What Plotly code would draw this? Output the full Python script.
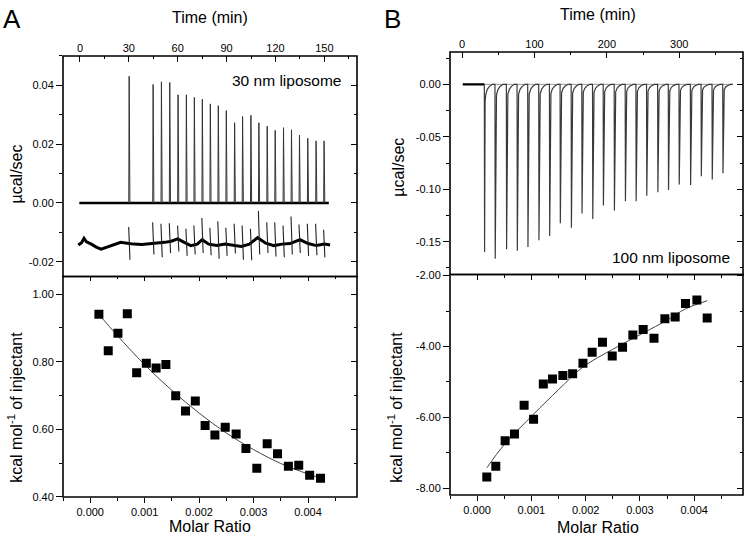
import plotly.graph_objects as go

# ---------------- Panel A (30 nm liposome) ----------------
a_inj_time = [30.2, 44.9, 50.0, 55.1, 60.2, 65.3, 70.2, 75.1, 80.0, 84.9, 89.8, 94.9,
              99.8, 104.9, 109.8, 114.9, 119.8, 124.9, 129.8, 134.7, 139.8, 144.9, 149.8]
a_peak = [0.0431, 0.0403, 0.0412, 0.0410, 0.0368, 0.0368, 0.0359, 0.0353, 0.0337, 0.0331,
          0.0314, 0.0273, 0.0294, 0.0298, 0.0273, 0.0261, 0.0247, 0.0256, 0.0249, 0.0231,
          0.0220, 0.0211, 0.0211]
a_base_time = [-0.4, 152.7]
a_base_val = [0.0, 0.0]

a_ref_time = [-1, 1, 2.5, 4, 7, 10, 13, 17, 21, 25, 28, 33, 38, 42, 47, 52, 56, 60, 64, 68,
              72, 75, 79, 84, 89, 94, 99, 104, 109, 114, 119, 124, 129, 135, 140, 145, 150, 153.5]
a_ref_val = [-0.0143, -0.0135, -0.0120, -0.0132, -0.0140, -0.0150, -0.0157, -0.0150, -0.0142,
             -0.0134, -0.0136, -0.0140, -0.0141, -0.0139, -0.0137, -0.0134, -0.0130, -0.0122,
             -0.0134, -0.0145, -0.0140, -0.0125, -0.0140, -0.0145, -0.0140, -0.0143, -0.0148,
             -0.0140, -0.0118, -0.0137, -0.0145, -0.0140, -0.0138, -0.0125, -0.0138, -0.0145,
             -0.0140, -0.0143]
a_ref_top = [-0.0082, -0.0066, -0.0071, -0.0069, -0.0077, -0.0088, -0.0077, -0.0051, -0.0084,
             -0.0062, -0.0084, -0.0071, -0.0077, -0.0088, -0.0027, -0.0066, -0.0066, -0.0077,
             -0.0046, -0.0073, -0.0071, -0.0071, -0.0091]
a_ref_dip = [-0.0193, -0.0175, -0.0185, -0.0170, -0.0165, -0.0180, -0.0175, -0.0170, -0.0178,
             -0.0190, -0.0180, -0.0172, -0.0193, -0.0195, -0.0175, -0.0170, -0.0182, -0.0185,
             -0.0175, -0.0170, -0.0180, -0.0178, -0.0185]

a_ratio = [0.000159, 0.000331, 0.000509, 0.000681, 0.000853, 0.00103, 0.00121, 0.00139,
           0.00157, 0.00175, 0.00193, 0.00211, 0.00229, 0.00248, 0.00268, 0.00286, 0.00306,
           0.00325, 0.00344, 0.00364, 0.00383, 0.00403, 0.00423]
a_heat = [0.940, 0.832, 0.884, 0.942, 0.767, 0.795, 0.781, 0.792, 0.699, 0.654, 0.684, 0.611,
          0.583, 0.606, 0.586, 0.543, 0.485, 0.557, 0.528, 0.491, 0.494, 0.464, 0.455]
a_fit_ratio = [0.00016, 0.0005, 0.001, 0.0015, 0.002, 0.0025, 0.003, 0.0035, 0.004, 0.00425]
a_fit_heat = [0.940, 0.877, 0.791, 0.715, 0.648, 0.589, 0.540, 0.499, 0.468, 0.455]

# ---------------- Panel B (100 nm liposome) ----------------
b_inj_time = [30.9, 45.6, 61.3, 76.1, 90.8, 106.0, 120.8, 135.5, 150.8, 165.5, 180.3, 195.0,
              210.2, 225.4, 240.2, 254.9, 270.2, 284.9, 299.7, 315.4, 330.2, 345.3, 360.1]
b_peak = [-0.1598, -0.1664, -0.1573, -0.1586, -0.1551, -0.1486, -0.1446, -0.1324, -0.1368,
          -0.1231, -0.1283, -0.1156, -0.1203, -0.1115, -0.1115, -0.1063, -0.1028, -0.1007,
          -0.0956, -0.0960, -0.0876, -0.0907, -0.0848]
b_base_time = [1.0, 374.0]
b_base_val = [0.0, 0.0]

b_ratio = [0.000178, 0.000344, 0.000516, 0.000688, 0.000866, 0.00104, 0.00122, 0.00139,
           0.00158, 0.00176, 0.00195, 0.00212, 0.00231, 0.00249, 0.00268, 0.00287, 0.00306,
           0.00326, 0.00346, 0.00365, 0.00384, 0.00405, 0.00424]
b_heat = [-7.68, -7.38, -6.66, -6.47, -5.66, -6.05, -5.06, -4.92, -4.82, -4.77, -4.47, -4.16,
          -3.88, -4.27, -4.02, -3.68, -3.52, -3.77, -3.22, -3.17, -2.79, -2.69, -3.20]
b_fit_ratio = [0.00018, 0.0005, 0.00104, 0.0015, 0.00195, 0.0025, 0.00306, 0.0035, 0.00384, 0.00424]
b_fit_heat = [-7.42, -6.77, -5.91, -5.22, -4.58, -4.08, -3.62, -3.26, -2.94, -2.71]

# ---------------- tick labels ----------------
time_a_ticks = [0, 30, 60, 90, 120, 150]
time_b_ticks = [0, 100, 200, 300]
ratio_ticks = [0.000, 0.001, 0.002, 0.003, 0.004]
ratio_labels = ["0.000", "0.001", "0.002", "0.003", "0.004"]
a_raw_ticks = [-0.02, 0.00, 0.02, 0.04]
a_raw_labels = ["-0.02", "0.00", "0.02", "0.04"]
a_heat_ticks = [0.40, 0.60, 0.80, 1.00]
a_heat_labels = ["0.40", "0.60", "0.80", "1.00"]
b_raw_ticks = [-0.15, -0.10, -0.05, 0.00]
b_raw_labels = ["-0.15", "-0.10", "-0.05", "0.00"]
b_heat_ticks = [-8.0, -6.0, -4.0, -2.0]
b_heat_labels = ["-8.00", "-6.00", "-4.00", "-2.00"]

FONT = "Arial, Liberation Sans, sans-serif"
W, H = 745, 550

fig = go.Figure()

# ---- A thermogram: sample trace ----
fig.add_trace(go.Scatter(x=a_base_time, y=a_base_val, mode="lines",
                         line=dict(color="black", width=2.4), xaxis="x", yaxis="y", hoverinfo="skip"))
sx, sy = [], []
for t, p in zip(a_inj_time, a_peak):
    sx += [t - 0.25, t, t + 0.45, None]
    sy += [a_base_val[0], p, a_base_val[0], None]
fig.add_trace(go.Scatter(x=sx, y=sy, mode="lines", line=dict(color="#333", width=1),
                         xaxis="x", yaxis="y", hoverinfo="skip"))
# ---- A thermogram: reference trace ----
fig.add_trace(go.Scatter(x=a_ref_time, y=a_ref_val, mode="lines",
                         line=dict(color="black", width=3), xaxis="x", yaxis="y", hoverinfo="skip"))
rx, ry = [], []
for t, tp, dp in zip(a_inj_time, a_ref_top, a_ref_dip):
    rx += [t - 0.3, t + 0.5, None]
    ry += [tp, dp, None]
fig.add_trace(go.Scatter(x=rx, y=ry, mode="lines", line=dict(color="#222", width=1.1),
                         xaxis="x", yaxis="y", hoverinfo="skip"))

# ---- A binding isotherm ----
fig.add_trace(go.Scatter(x=a_fit_ratio, y=a_fit_heat, mode="lines",
                         line=dict(color="#444", width=1, shape="spline"), xaxis="x2", yaxis="y2"))
fig.add_trace(go.Scatter(x=a_ratio, y=a_heat, mode="markers",
                         marker=dict(symbol="square", size=9, color="black"), xaxis="x2", yaxis="y2"))

# ---- B thermogram ----
fig.add_trace(go.Scatter(x=[b_base_time[0], b_base_time[1]], y=b_base_val, mode="lines",
                         line=dict(color="#999", width=1), xaxis="x3", yaxis="y3", hoverinfo="skip"))
fig.add_trace(go.Scatter(x=[b_base_time[0], b_inj_time[0]], y=b_base_val, mode="lines",
                         line=dict(color="black", width=2.4), xaxis="x3", yaxis="y3", hoverinfo="skip"))
recov_dt = [1.0, 2.0, 4.0, 7.0, 11.0]
recov_frac = [0.10, 0.06, 0.03, 0.012, 0.0]
bx, by = [], []
for t, p in zip(b_inj_time, b_peak):
    bx += [t - 0.1, t + 0.25]
    by += [b_base_val[0], p]
    for dt, fr in zip(recov_dt, recov_frac):
        bx.append(t + dt)
        by.append(p * fr)
bx.append(b_base_time[1])
by.append(b_base_val[1])
fig.add_trace(go.Scatter(x=bx, y=by, mode="lines", line=dict(color="#3a3a3a", width=1.2),
                         xaxis="x3", yaxis="y3", hoverinfo="skip"))

# ---- B binding isotherm ----
fig.add_trace(go.Scatter(x=b_fit_ratio, y=b_fit_heat, mode="lines",
                         line=dict(color="#444", width=1, shape="spline"), xaxis="x4", yaxis="y4"))
fig.add_trace(go.Scatter(x=b_ratio, y=b_heat, mode="markers",
                         marker=dict(symbol="square", size=9, color="black"), xaxis="x4", yaxis="y4"))

# ---------------- axes ----------------
def px_x(a, b):
    return [a / W, b / W]

def px_y(top, bottom):
    return [1 - bottom / H, 1 - top / H]

A_X = px_x(63, 357)
B_X = px_x(450, 743)
A_TOP = px_y(52, 277)
A_BOT = px_y(277, 502)
B_TOP = px_y(48, 275)
B_BOT = px_y(275, 500)

tickfont = dict(family=FONT, size=11, color="black")
base = dict(showline=False, showgrid=False, zeroline=False, tickcolor="black", tickwidth=1.3,
            tickfont=tickfont, fixedrange=True)

def minor(d, t0, direction):
    return dict(tickmode="linear", tick0=t0, dtick=d, ticks=direction, ticklen=3,
                tickcolor="black", tickwidth=1.3, showgrid=False)

layout = dict(
    width=W, height=H, margin=dict(l=0, r=0, t=0, b=0),
    paper_bgcolor="white", plot_bgcolor="rgba(0,0,0,0)", showlegend=False,
    font=dict(family=FONT, color="black"),
)

layout["xaxis"] = dict(base, domain=A_X, anchor="y", side="top", range=[-10.4, 170],
                       tickmode="array", tickvals=time_a_ticks, ticks="inside", ticklen=6,
                       ticklabelstandoff=1, minor=minor(15, 0, "inside"))
layout["yaxis"] = dict(base, domain=A_TOP, anchor="x", range=[-0.025, 0.05],
                       tickmode="array", tickvals=a_raw_ticks, ticktext=a_raw_labels,
                       ticks="outside", ticklen=6, minor=minor(0.01, 0, "outside"))
layout["xaxis2"] = dict(base, domain=A_X, anchor="y2", range=[-0.0005, 0.0049],
                        tickmode="array", tickvals=ratio_ticks, ticktext=ratio_labels,
                        ticks="outside", ticklen=5, minor=minor(0.0005, 0, "outside"))
layout["yaxis2"] = dict(base, domain=A_BOT, anchor="x2", range=[0.40, 1.052],
                        tickmode="array", tickvals=a_heat_ticks, ticktext=a_heat_labels,
                        ticks="outside", ticklen=6, minor=minor(0.1, 0.4, "outside"))
layout["xaxis3"] = dict(base, domain=B_X, anchor="y3", side="top", range=[-16.6, 388],
                        tickmode="array", tickvals=time_b_ticks, ticks="inside", ticklen=6,
                        ticklabelstandoff=1, minor=minor(50, 0, "inside"))
layout["yaxis3"] = dict(base, domain=B_TOP, anchor="x3", range=[-0.1813, 0.0308],
                        tickmode="array", tickvals=b_raw_ticks, ticktext=b_raw_labels,
                        ticks="outside", ticklen=6, minor=minor(0.025, 0, "outside"))
layout["xaxis4"] = dict(base, domain=B_X, anchor="y4", range=[-0.0005, 0.0049],
                        tickmode="array", tickvals=ratio_ticks, ticktext=ratio_labels,
                        ticks="outside", ticklen=5, minor=minor(0.0005, 0, "outside"))
layout["yaxis4"] = dict(base, domain=B_BOT, anchor="x4", range=[-8.19, -1.97],
                        tickmode="array", tickvals=b_heat_ticks, ticktext=b_heat_labels,
                        ticks="outside", ticklen=6, minor=minor(1, 0, "outside"))

# helper subplots carrying the inward mirror ticks (right side, and top of lower panels)
plain = dict(showline=False, showgrid=False, zeroline=False, showticklabels=False,
             tickcolor="black", tickwidth=1.3, fixedrange=True)
helpers = [
    (5, A_X, A_TOP, [-10.4, 170], [-0.025, 0.05], None, None, a_raw_ticks, (0.01, 0)),
    (6, A_X, A_BOT, [-0.0005, 0.0049], [0.40, 1.052], ratio_ticks, (0.0005, 0), a_heat_ticks, (0.1, 0.4)),
    (7, B_X, B_TOP, [-16.6, 388], [-0.1813, 0.0308], None, None, b_raw_ticks, (0.025, 0)),
    (8, B_X, B_BOT, [-0.0005, 0.0049], [-8.19, -1.97], ratio_ticks, (0.0005, 0), b_heat_ticks, (1, 0)),
]
for n, xd, yd, xr, yr, xt, xm, yt, ym in helpers:
    xa = dict(plain, domain=xd, anchor="y%d" % n, side="top", range=xr)
    if xt is None:
        xa.update(ticks="")
    else:
        xa.update(tickmode="array", tickvals=xt, ticks="inside", ticklen=5,
                  minor=minor(xm[0], xm[1], "inside"))
    ya = dict(plain, domain=yd, anchor="x%d" % n, side="right", range=yr,
              tickmode="array", tickvals=yt, ticks="inside", ticklen=6,
              minor=minor(ym[0], ym[1], "inside"))
    layout["xaxis%d" % n] = xa
    layout["yaxis%d" % n] = ya

fig.update_layout(**layout)

for n in (5, 6, 7, 8):
    fig.add_trace(go.Scatter(x=[None], y=[None], xaxis="x%d" % n, yaxis="y%d" % n,
                             mode="lines", hoverinfo="skip", showlegend=False))

# panel frames, in paper coordinates (unclipped)
for xd, yd in [(A_X, A_TOP), (A_X, A_BOT), (B_X, B_TOP), (B_X, B_BOT)]:
    fig.add_shape(type="rect", xref="paper", yref="paper", x0=xd[0], x1=xd[1], y0=yd[0], y1=yd[1],
                  line=dict(color="black", width=1.6), fillcolor="rgba(0,0,0,0)", layer="above")

def ann(text, x, y, size, angle=0):
    fig.add_annotation(text=text, x=x / W, y=1 - y / H, xref="paper", yref="paper",
                       showarrow=False, textangle=angle, xanchor="center", yanchor="middle",
                       font=dict(family=FONT, size=size, color="black"))

ann("A", 12, 14, 26)
ann("B", 392, 14, 26)
ann("Time (min)", 210, 13, 16)
ann("Time (min)", 598, 10, 16)
ann("30 nm liposome", 286, 77, 15.5)
ann("100 nm liposome", 671, 258, 15.5)
ann("µcal/sec", 17, 173, 16, -90)
ann("µcal/sec", 399, 166, 16, -90)
ann("kcal mol<sup>-1</sup> of injectant", 15, 411, 16, -90)
ann("kcal mol<sup>-1</sup> of injectant", 395, 411, 16, -90)
ann("Molar Ratio", 210, 532, 16)
ann("Molar Ratio", 598, 533, 16)

fig.write_html("out.html", config={"displayModeBar": False},
               post_script="document.body.style.margin='0';")
